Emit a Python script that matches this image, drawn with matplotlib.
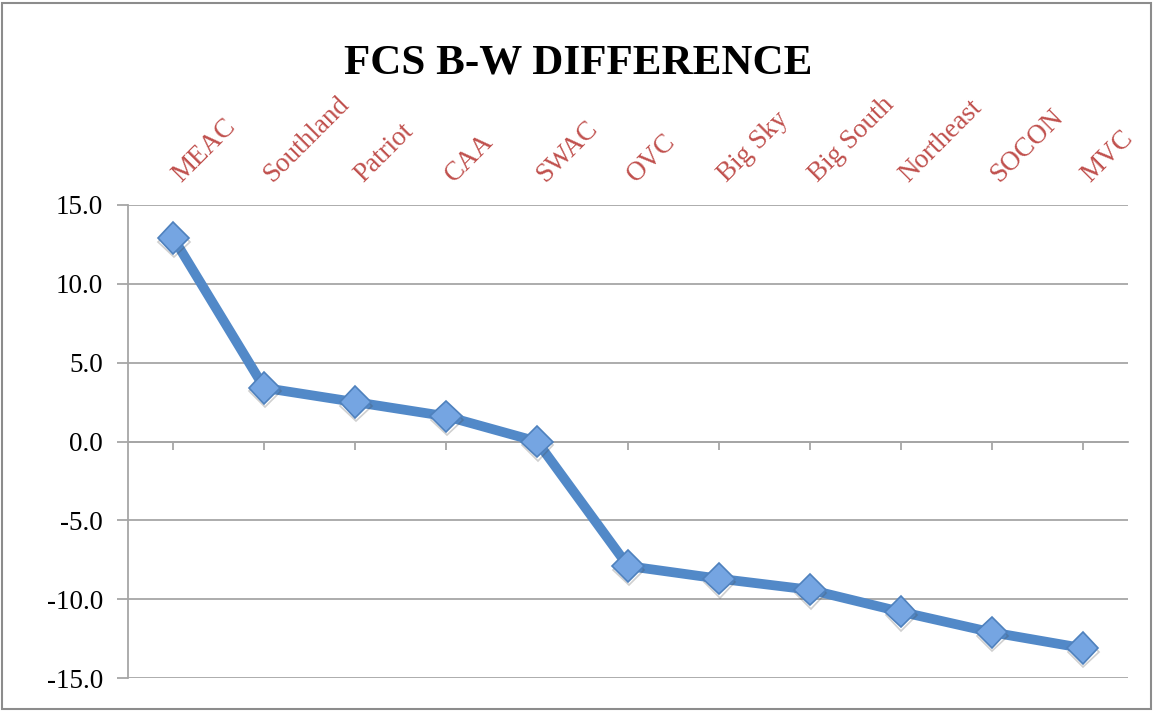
import matplotlib
matplotlib.use("Agg")
import matplotlib.pyplot as plt
from matplotlib.patches import Rectangle
import matplotlib.patheffects as pe

categories = ["MEAC", "Southland", "Patriot", "CAA", "SWAC", "OVC",
              "Big Sky", "Big South", "Northeast", "SOCON", "MVC"]
values = [12.9, 3.4, 2.5, 1.6, 0.0, -7.9, -8.7, -9.4, -10.8, -12.1, -13.1]
yticks = [15, 10, 5, 0, -5, -10, -15]
title = "FCS B-W DIFFERENCE"

W, H = 1154, 711
fig = plt.figure(figsize=(W / 100, H / 100), dpi=100)
serif = ["Liberation Serif", "DejaVu Serif"]

ax = fig.add_axes([128 / W, 1 - 678 / H, 1000 / W, (678 - 205) / H])
x = list(range(len(categories)))

grid_c = "#A6A6A6"
for yv in yticks:
    ax.axhline(yv, color=grid_c, lw=1.3, zorder=1)

ax.plot(x, values, color="#5289C8", lw=7, zorder=3, solid_capstyle="round",
        solid_joinstyle="round")
ax.plot(x, values, linestyle="none", marker="D", markersize=16,
        markerfacecolor="#75A5E2", markeredgecolor="#4F81BD", markeredgewidth=1.2,
        zorder=4,
        path_effects=[pe.SimpleLineShadow(offset=(0.5, -2.5), shadow_color="#444444", alpha=0.25),
                      pe.Normal()])

ax.set_xlim(-0.5, len(categories) - 0.5)
ax.set_ylim(-15, 15)
ax.set_yticks(yticks)
ax.set_yticklabels([f"{v:.1f}" for v in yticks], fontsize=19.5, family=serif)
ax.tick_params(axis="y", length=8, width=1.3, color=grid_c, pad=10)

for s in ["top", "right"]:
    ax.spines[s].set_visible(False)
ax.spines["left"].set_color(grid_c)
ax.spines["left"].set_linewidth(1.3)
ax.spines["bottom"].set_position(("data", 0))
ax.spines["bottom"].set_color(grid_c)
ax.spines["bottom"].set_linewidth(1.3)
ax.set_xticks(x)
ax.set_xticklabels([])
ax.tick_params(axis="x", length=6, width=1.3, color=grid_c, direction="out")

for xi, lab in zip(x, categories):
    ax.annotate(lab, xy=(xi, 15), xycoords="data", xytext=(5.5, 16),
                textcoords="offset points", rotation=45, rotation_mode="anchor",
                ha="left", va="baseline", fontsize=19.5, color="#C0504D",
                family=serif, annotation_clip=False)

fig.text(578 / W, 1 - 63 / H, title, ha="center", va="center", fontsize=31,
         fontweight="bold", family=serif)

fig.patches.append(Rectangle((2 / W, 2 / H), (W - 5) / W, (H - 5) / H,
                             transform=fig.transFigure, fill=False,
                             edgecolor="#8C8C8C", lw=1.5))

fig.savefig("out.png", dpi=100)
